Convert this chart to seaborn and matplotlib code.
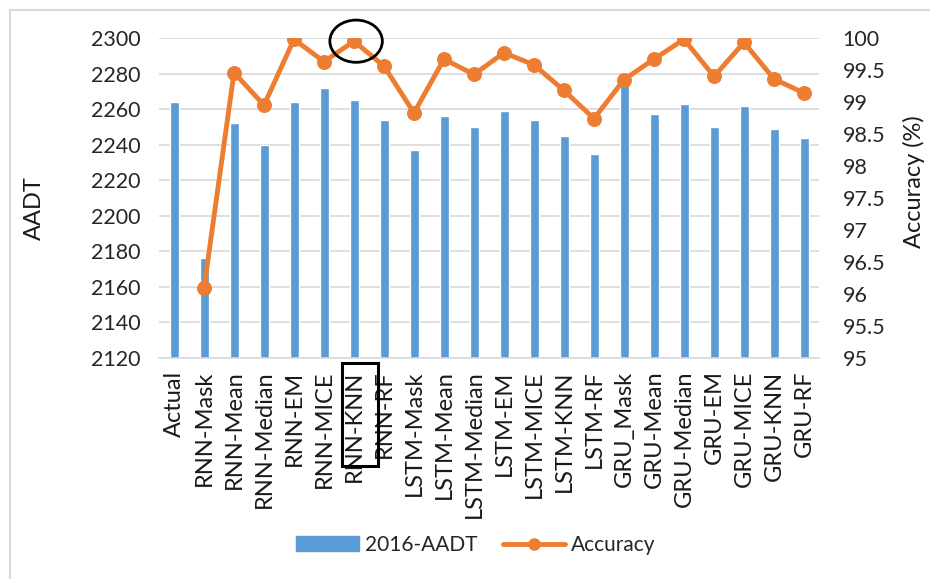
import numpy as np
import pandas as pd
import seaborn as sns
import matplotlib.pyplot as plt
from matplotlib.patches import Ellipse, Rectangle, Patch
from matplotlib.lines import Line2D

# Datos
categories = ["Actual", "RNN-Mask", "RNN-Mean", "RNN-Median", "RNN-EM", "RNN-MICE",
              "RNN-KNN", "RNN-RF", "LSTM-Mask", "LSTM-Mean", "LSTM-Median", "LSTM-EM",
              "LSTM-MICE", "LSTM-KNN", "LSTM-RF", "GRU_Mask", "GRU-Mean", "GRU-Median",
              "GRU-EM", "GRU-MICE", "GRU-KNN", "GRU-RF"]
aadt_2016 = [2264, 2176, 2252, 2240, 2264, 2272, 2265, 2254, 2237, 2256, 2250, 2259,
             2254, 2245, 2235, 2274, 2257, 2263, 2250, 2262, 2249, 2244]
accuracy = [np.nan, 96.09, 99.46, 98.95, 99.98, 99.63, 99.95, 99.56, 98.83, 99.67, 99.43,
            99.77, 99.58, 99.18, 98.74, 99.35, 99.67, 99.98, 99.40, 99.93, 99.36, 99.14]
left_ticks = list(range(2120, 2301, 20))
right_ticks = [95, 95.5, 96, 96.5, 97, 97.5, 98, 98.5, 99, 99.5, 100]

blue = "#5B9BD5"
orange = "#ED7D31"
grid_c = "#D9D9D9"

df = pd.DataFrame({"modelo": categories, "aadt": aadt_2016,
                   "acc": accuracy, "pos": np.arange(len(categories))})

sns.set_style("white")
plt.rcParams["font.family"] = ["Lato", "DejaVu Sans"]

fig = plt.figure(figsize=(9.3, 5.79), dpi=100)
fig.subplots_adjust(left=159/930, right=819/930, top=1-38/579, bottom=1-358/579)
ax = fig.add_subplot(111)

# Barras
sns.barplot(data=df, x="modelo", y="aadt", ax=ax, color=blue, width=0.3,
            saturation=1, order=categories)
ax.set_ylim(2120, 2300)
ax.set_xlim(-0.5, len(categories) - 0.5)
ax.set_yticks(left_ticks)
ax.set_yticklabels([str(t) for t in left_ticks], fontsize=15.5, color="#262626")
ax.set_xticks(range(len(categories)))
ax.set_xticklabels(categories, rotation=90, fontsize=17, color="#1a1a1a")
ax.tick_params(axis="y", length=0, pad=13)
ax.tick_params(axis="x", length=0, pad=9)
ax.yaxis.grid(True, color=grid_c, lw=1.2)
ax.set_axisbelow(True)
for s in ["top", "left", "right"]:
    ax.spines[s].set_visible(False)
ax.spines["bottom"].set_color(grid_c)
ax.spines["bottom"].set_linewidth(1.2)
ax.set_xlabel("")
ax.set_ylabel("AADT", fontsize=17, color="#1a1a1a")
ax.yaxis.set_label_coords(-114/660, 0.47)

# Linea de accuracy
ax2 = ax.twinx()
sns.lineplot(data=df.dropna(), x="pos", y="acc", ax=ax2, color=orange, lw=3.5,
             marker="o", markersize=10, markeredgecolor=orange, sort=False)
ax2.set_ylim(95, 100)
ax2.set_xlim(-0.5, len(categories) - 0.5)
ax2.set_yticks(right_ticks)
ax2.set_yticklabels([f"{t:g}" for t in right_ticks], fontsize=15.5, color="#262626")
ax2.tick_params(axis="y", length=0, pad=17)
for s in ["top", "left", "right", "bottom"]:
    ax2.spines[s].set_visible(False)
ax2.set_ylabel("Accuracy (%)", fontsize=17, color="#1a1a1a")
ax2.yaxis.set_label_coords(1 + 84/660, 0.55)
ax2.set_xlabel("")

# Marcas RNN-KNN
ax2.add_patch(Ellipse((6.07, 99.95), 1.75, 0.66, fill=False, ec="black",
                      lw=2, clip_on=False, zorder=5))
ax.add_patch(Rectangle((5.6, -0.016), 1.2, -0.32, fill=False, ec="black", lw=2.2,
                       clip_on=False, transform=ax.get_xaxis_transform()))

# Leyenda
handles = [Patch(color=blue, label="2016-AADT"),
           Line2D([], [], color=orange, lw=3.5, marker="o", markersize=8, label="Accuracy")]
fig.legend(handles=handles, loc="center", bbox_to_anchor=(476/930, 1-545/579), ncol=2,
           frameon=False, fontsize=15, handlelength=3, handletextpad=0.3, columnspacing=1.2)

# Marco
fig.add_artist(Rectangle((10/930, -0.01), 1, 1 - 10/579 + 0.01, fill=False,
                         ec="#D9D9D9", lw=1.5, transform=fig.transFigure))

fig.savefig("out.png", dpi=100)
